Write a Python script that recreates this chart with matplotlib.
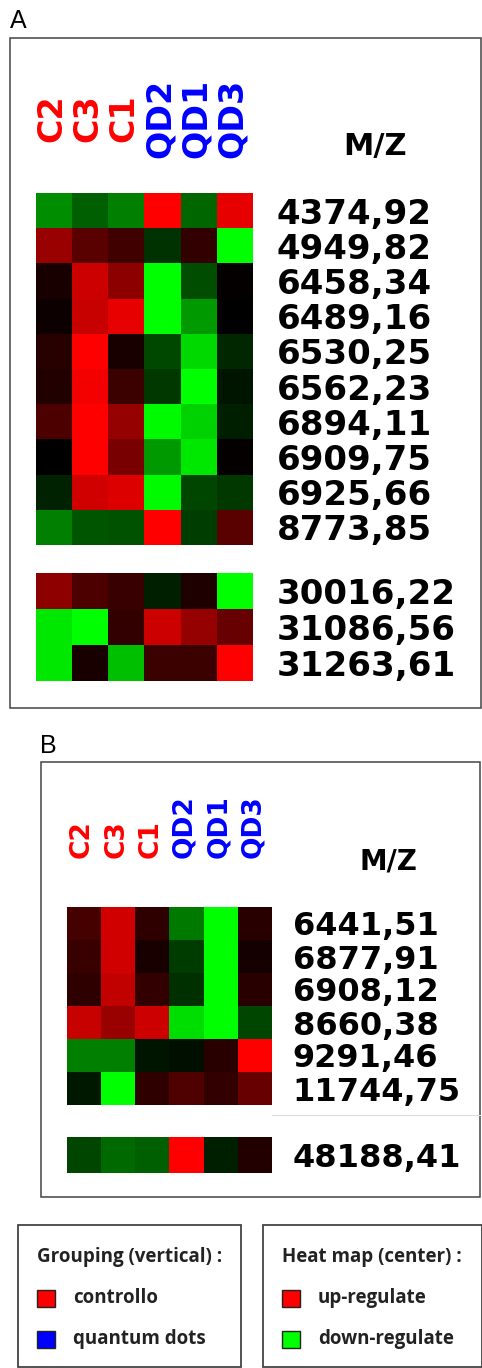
import numpy as np
import matplotlib.pyplot as plt
from matplotlib.colors import LinearSegmentedColormap
from matplotlib.patches import Rectangle

# canvas size in pixels (dpi 100)
W, H = 482, 1368

# samples (columns) and their group colours
samples = ["C2", "C3", "C1", "QD2", "QD1", "QD3"]
sample_colors = ["red", "red", "red", "blue", "blue", "blue"]

# panel A - main block
mz_a1 = ["4374,92", "4949,82", "6458,34", "6489,16", "6530,25",
         "6562,23", "6894,11", "6909,75", "6925,66", "8773,85"]
vals_a1 = [
    [-0.55, -0.37, -0.50,  1.00, -0.40,  0.90],
    [ 0.60,  0.35,  0.25, -0.20,  0.20, -1.00],
    [ 0.10,  0.80,  0.55, -1.00, -0.30,  0.02],
    [ 0.05,  0.78,  0.90, -1.00, -0.60,  0.00],
    [ 0.15,  1.00,  0.10, -0.28, -0.85, -0.15],
    [ 0.13,  0.95,  0.23, -0.22, -1.00, -0.08],
    [ 0.30,  1.00,  0.58, -0.98, -0.82, -0.12],
    [ 0.00,  1.00,  0.47, -0.60, -0.90,  0.02],
    [-0.14,  0.82,  0.86, -0.98, -0.27, -0.22],
    [-0.50, -0.33, -0.32,  1.00, -0.24,  0.35],
]

# panel A - high mass block
mz_a2 = ["30016,22", "31086,56", "31263,61"]
vals_a2 = [
    [ 0.55,  0.30,  0.22, -0.12,  0.12, -1.00],
    [-0.90, -1.00,  0.20,  0.80,  0.58,  0.40],
    [-0.90,  0.10, -0.75,  0.23,  0.23,  1.00],
]

# panel B - main block
mz_b1 = ["6441,51", "6877,91", "6908,12", "8660,38", "9291,46", "11744,75"]
vals_b1 = [
    [ 0.27,  0.82,  0.18, -0.47, -1.00,  0.16],
    [ 0.22,  0.82,  0.10, -0.23, -1.00,  0.08],
    [ 0.18,  0.75,  0.20, -0.18, -1.00,  0.16],
    [ 0.78,  0.60,  0.80, -0.86, -1.00, -0.27],
    [-0.50, -0.50, -0.08, -0.06,  0.16,  1.00],
    [-0.10, -1.00,  0.18,  0.31,  0.20,  0.40],
]

# panel B - high mass block
mz_b2 = ["48188,41"]
vals_b2 = [
    [-0.27, -0.41, -0.37,  1.00, -0.12,  0.14],
]

cmap = LinearSegmentedColormap.from_list("green_black_red", ["#00ff00", "#000000", "#ff0000"])

fig = plt.figure(figsize=(W / 100, H / 100), dpi=100)

# background axes in pixel units for frames, panel letters and legends
bg = fig.add_axes([0, 0, 1, 1])
bg.set_xlim(0, W)
bg.set_ylim(H, 0)
bg.axis("off")


def px_axes(x, y, w, h):
    return fig.add_axes([x / W, 1 - (y + h) / H, w / W, h / H])


def heat(x, y, w, h, vals, labels, fs, pad):
    ax = px_axes(x, y, w, h)
    ax.imshow(np.array(vals), cmap=cmap, vmin=-1, vmax=1,
              aspect="auto", interpolation="nearest")
    ax.set_xticks([])
    ax.yaxis.tick_right()
    ax.set_yticks(range(len(labels)))
    ax.set_yticklabels(labels, fontsize=fs, fontweight="bold", family="DejaVu Sans")
    ax.tick_params(axis="y", length=0, pad=pad)
    for s in ax.spines.values():
        s.set_visible(False)
    return ax


def col_labels(ax, fs, offset, va):
    for i, (s, c) in enumerate(zip(samples, sample_colors)):
        ax.annotate(s, xy=(i, 1), xycoords=("data", "axes fraction"),
                    xytext=(-1.5, offset), textcoords="offset points",
                    rotation=90, ha="center", va=va, color=c,
                    fontsize=fs, fontweight="bold", family="DejaVu Sans")


# ---- panel A
bg.text(10, 21, "A", fontsize=18, family="Liberation Sans", va="center", ha="left")
bg.add_patch(Rectangle((10, 38), 471, 670, fill=False, edgecolor="#444444", lw=1.1))
ax_a1 = heat(36, 193, 217, 352, vals_a1, mz_a1, 24.5, 17)
heat(36, 573, 217, 108, vals_a2, mz_a2, 24.5, 17)
col_labels(ax_a1, 24, 54, "center")
bg.text(375, 146, "M/Z", fontsize=22, fontweight="bold", ha="center", va="center")

# ---- panel B
bg.text(40, 746, "B", fontsize=18, family="Liberation Sans", va="center", ha="left")
bg.add_patch(Rectangle((41, 762), 439, 435, fill=False, edgecolor="#444444", lw=1.1))
ax_b1 = heat(67, 907, 205, 198, vals_b1, mz_b1, 23, 15)
heat(67, 1137, 205, 36, vals_b2, mz_b2, 23, 15)
col_labels(ax_b1, 19, 35, "bottom")
bg.text(388, 861, "M/Z", fontsize=20, fontweight="bold", ha="center", va="center")
bg.plot([272, 480], [1115, 1115], color="#dddddd", lw=0.8)

# ---- legends
legends = [
    (18, 223, "Grouping (vertical) :", [("red", "controllo"), ("blue", "quantum dots")]),
    (263, 219, "Heat map (center) :", [("#ff0000", "up-regulate"), ("#00ff00", "down-regulate")]),
]
for lx, lw_, title, items in legends:
    bg.add_patch(Rectangle((lx, 1225), lw_, 142, fill=False, edgecolor="#444444", lw=1.3))
    bg.text(lx + 19, 1257, title, fontsize=13.5, fontweight="bold", family="Open Sans",
            color="#222222", ha="left", va="center")
    for k, (c, lab) in enumerate(items):
        yy = 1298 + 41 * k
        bg.add_patch(Rectangle((lx + 19, yy - 8), 18, 17, facecolor=c, edgecolor="#222222", lw=1))
        bg.text(lx + 55, yy, lab, fontsize=13.5, fontweight="bold", family="Open Sans",
                color="#222222", ha="left", va="center")

fig.savefig("out.png", dpi=100)
